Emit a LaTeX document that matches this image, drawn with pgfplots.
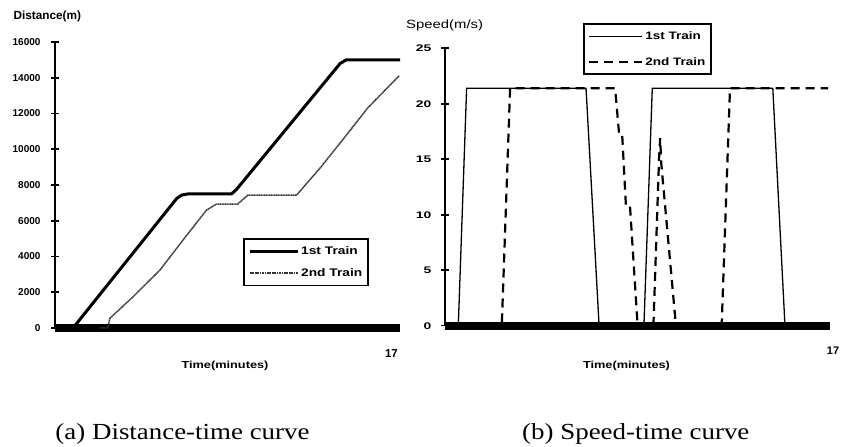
\documentclass[border=0pt]{standalone}
\usepackage{fontspec}
\setmainfont{Liberation Serif}
\setsansfont{Liberation Sans}
\newfontfamily\chartfont[FakeStretch=1.25]{Liberation Sans}
\newfontfamily\widefont[FakeStretch=1.45]{Liberation Sans}
\newfontfamily\capfont[FakeStretch=1.17]{Liberation Serif}
\usepackage{pgfplots}
\pgfplotsset{compat=1.18}
\begin{document}
\begin{tikzpicture}
\path[use as bounding box] (0pt,0pt) rectangle (841pt,447pt);
% ---------------- (a) Distance-time ----------------
\begin{axis}[
  at={(55pt,119pt)}, anchor=south west, scale only axis,
  width=345pt, height=286pt,
  xmin=0, xmax=17, ymin=0, ymax=16000, clip=false,
  axis x line=bottom, axis y line=left,
  axis line style={-, line width=2pt},
  x axis line style={draw=none},
  xtick={17}, xtick style={draw=none},
  ytick={0,2000,...,16000}, tick align=center, major tick length=8pt,
  ytick style={line width=1.8pt, black},
  scaled y ticks=false,
  /pgf/number format/1000 sep={},
  /pgf/number format/assume math mode=true,
  yticklabel style={font=\sffamily\bfseries\fontsize{10}{11}\selectfont, xshift=-7pt},
  xticklabel style={font=\sffamily\bfseries\fontsize{11.5}{13}\selectfont, xshift=-8.5pt, yshift=-14pt},
  legend style={at={(0.546,0.314)}, anchor=north west, draw=black, line width=1.6pt,
    fill=white, font=\chartfont\bfseries\fontsize{11}{12}\selectfont,
    inner xsep=4pt, inner ysep=5.5pt, row sep=8.5pt, cells={anchor=west}},
  legend image code/.code={\draw[#1] (0pt,0pt) -- (48pt,0pt);},
]
\addplot[black, line width=8pt, forget plot] coordinates {(0,0) (17,0)};
\addplot[black, line width=3pt, line join=round] coordinates {
 (0.89,0) (6.0,7250) (6.25,7440) (6.55,7500) (8.7,7500) (8.95,7760) (14.05,14800) (14.35,15000) (17,15000)};
\addlegendentry{1st Train}
\addplot[black!80, line width=1.5pt, dash pattern=on 1.2pt off 0.5pt] coordinates {
 (2.2,0) (2.6,0) (2.7,540) (3.85,1750) (5.17,3240) (6.31,4920) (7.46,6590) (7.95,6930)
 (9.0,6930) (9.5,7430) (11.9,7430) (13.1,9000) (14.4,10850) (15.4,12300) (16.95,14100)};
\addlegendentry{2nd Train}
\end{axis}
% ---------------- (b) Speed-time ----------------
\begin{axis}[
  at={(445pt,121.3pt)}, anchor=south west, scale only axis,
  width=383pt, height=277.4pt,
  xmin=0, xmax=17, ymin=0, ymax=25, clip=false,
  axis x line=bottom, axis y line=left,
  axis line style={-, line width=1.8pt},
  x axis line style={draw=none},
  xtick={17}, xtick style={draw=none},
  ytick={0,5,...,25}, tick align=center, major tick length=8pt,
  ytick style={line width=1.6pt, black},
  /pgf/number format/assume math mode=true,
  yticklabel style={font=\widefont\bfseries\fontsize{9.6}{11}\selectfont, xshift=-6pt},
  xticklabel style={font=\sffamily\bfseries\fontsize{11}{13}\selectfont, xshift=5pt, yshift=-14pt},
  legend style={at={(0.361,1.09)}, anchor=north west, draw=black, line width=1.6pt,
    fill=white, font=\chartfont\bfseries\fontsize{10.8}{12}\selectfont,
    inner xsep=4pt, inner ysep=5.5pt, row sep=12.5pt, cells={anchor=west}},
  legend image code/.code={\draw[#1] (0pt,0pt) -- (53pt,0pt);},
]
\addplot[black, line width=8pt, forget plot] coordinates {(0,0) (17.1,0)};
\addplot[black, line width=1.3pt] coordinates {
 (0,0) (0.59,0) (0.96,21.4) (6.26,21.4) (6.84,0) (8.83,0) (9.2,21.4) (14.55,21.4) (15.09,0) (17,0)};
\addlegendentry{1st Train}
\addplot[black, line width=2.2pt, dash pattern=on 9pt off 6pt] coordinates {
 (0,0) (2.52,0) (2.89,21.4) (7.55,21.4) (7.74,17.0) (7.87,17.0) (8.03,10.8) (8.21,10.8) (8.55,0)
 (9.25,0) (9.5,15) (9.55,16.9) (9.6,14.6) (10.25,0) (12.28,0) (12.65,21.4) (17,21.4)};
\addlegendentry{2nd Train}
\end{axis}
% ---------------- labels ----------------
\node[anchor=base west, inner sep=0, font=\sffamily\bfseries\fontsize{11.8}{13}\selectfont] at (13.3pt,427pt) {Distance(m)};
\node[anchor=base west, inner sep=0, font=\chartfont\fontsize{11.9}{13}\selectfont] at (406pt,418.7pt) {Speed(m/s)};
\node[anchor=base, inner sep=0, font=\chartfont\bfseries\fontsize{10.2}{12}\selectfont] at (225pt,78pt) {Time(minutes)};
\node[anchor=base, inner sep=0, font=\chartfont\bfseries\fontsize{10.2}{12}\selectfont] at (626.5pt,78pt) {Time(minutes)};
\node[anchor=base, inner sep=0, font=\capfont\fontsize{23}{26}\selectfont] at (182.5pt,7pt) {(a) Distance-time curve};
\node[anchor=base, inner sep=0, font=\capfont\fontsize{23}{26}\selectfont] at (635.8pt,7pt) {(b) Speed-time curve};
\end{tikzpicture}
\end{document}
